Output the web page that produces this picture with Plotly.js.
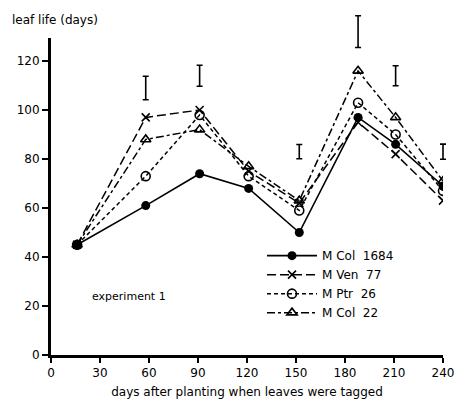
<!DOCTYPE html>
<html>
<head>
<meta charset="utf-8">
<script src="https://cdn.plot.ly/plotly-3.0.1.min.js"></script>
<style>html,body{margin:0;padding:0;background:#fff;}#chart{width:456px;height:408px;}</style>
</head>
<body>
<div id="chart"></div>
<script>
// days after planting when leaves were tagged
const days = [16, 58, 91, 121, 152, 188, 211, 240];
// leaf life (days) per clone
const mCol1684 = [45, 61, 74, 68, 50, 97, 86, 69];
const mVen77   = [45, 97, 100, 75, 62, 95, 82, 63];
const mPtr26   = [45, 73, 98, 73, 59, 103, 90, 67];
const mCol22   = [45, 88, 92, 77, 63, 116, 97, 71];
// LSD / error bars (centre and half-length)
const barDays = [58, 91, 152, 188, 211, 240];
const barMid  = [109, 114, 83, 132, 114, 83];
const barHalf = [4.8, 4.3, 2.9, 6.5, 4.1, 3.1];
const xTicks = [0, 30, 60, 90, 120, 150, 180, 210, 240];
const yTicks = [0, 20, 40, 60, 80, 100, 120];
const seriesNames = ['M Col  1684', 'M Ven  77', 'M Ptr  26', 'M Col  22'];

const FONT = 'DejaVu Sans, Arial, sans-serif';
const black = '#000';

const X_MAX = 240, Y_MAX = 129.4;
const X_DOM = 0.98, Y_DOM = 0.9188;   // main axes domain inside the paper

const traces = [
  {x: days, y: mCol1684, name: seriesNames[0], mode: 'lines+markers',
   line: {color: black, width: 1.6},
   marker: {symbol: 'circle', size: 9, color: black}},
  {x: days, y: mVen77, name: seriesNames[1], mode: 'lines+markers',
   line: {color: black, width: 1.5, dash: '9px,4px'},
   marker: {symbol: 'x-thin-open', size: 8, color: black, line: {width: 1.6, color: black}}},
  {x: days, y: mPtr26, name: seriesNames[2], mode: 'lines+markers',
   line: {color: black, width: 1.5, dash: '4px,3px'},
   marker: {symbol: 'circle-open', size: 9, color: black, line: {width: 1.6, color: black}}},
  {x: days, y: mCol22, name: seriesNames[3], mode: 'lines+markers',
   line: {color: black, width: 1.5, dash: '8px,3px,3px,3px'},
   marker: {symbol: 'triangle-up-open', size: 9, color: black, line: {width: 1.6, color: black}}},
  // error bars on an invisible overlay with the same scale but a larger domain (no clipping)
  {x: barDays, y: barMid, xaxis: 'x2', yaxis: 'y2', mode: 'markers', showlegend: false, hoverinfo: 'skip',
   marker: {size: 1, color: 'rgba(0,0,0,0)'},
   error_y: {type: 'data', array: barHalf, visible: true, color: black, thickness: 1.6, width: 3}}
];

const layout = {
  width: 456, height: 408,
  margin: {l: 51, r: 5, t: 10, b: 53},
  paper_bgcolor: '#fff', plot_bgcolor: 'rgba(0,0,0,0)',
  font: {family: FONT, size: 12, color: black},
  showlegend: true,
  legend: {x: 0.5275, y: 0.33, xanchor: 'left', yanchor: 'top',
           bgcolor: 'rgba(0,0,0,0)', borderwidth: 0,
           font: {family: FONT, size: 12, color: black}, itemwidth: 50},
  xaxis: {domain: [0, X_DOM], range: [0, X_MAX], tickvals: xTicks, ticktext: xTicks.map(String),
          showgrid: false, zeroline: false, showline: true, linecolor: black, linewidth: 3,
          ticks: 'outside', ticklen: 5, tickwidth: 1.5, tickcolor: black,
          tickfont: {family: FONT, size: 12, color: black},
          title: {text: 'days after planting when leaves were tagged', standoff: 9,
                  font: {family: FONT, size: 12, color: black}}},
  yaxis: {domain: [0, Y_DOM], range: [0, Y_MAX], tickvals: yTicks, ticktext: yTicks.map(String),
          showgrid: false, zeroline: false, showline: true, linecolor: black, linewidth: 3,
          ticks: 'outside', ticklen: 6, tickwidth: 1.5, tickcolor: black,
          tickfont: {family: FONT, size: 12, color: black}},
  xaxis2: {domain: [0, 1], range: [0, X_MAX / X_DOM], anchor: 'y2', visible: false,
           showgrid: false, zeroline: false},
  yaxis2: {domain: [0, 1], range: [0, Y_MAX / Y_DOM], anchor: 'x2', visible: false,
           showgrid: false, zeroline: false},
  annotations: [
    {text: 'leaf life (days)', xref: 'paper', yref: 'paper', x: -0.1025, y: 0.971,
     xanchor: 'left', yanchor: 'middle', showarrow: false,
     font: {family: FONT, size: 12, color: black}},
    {text: 'experiment 1', xref: 'x', yref: 'y', x: 24, y: 24,
     xanchor: 'left', yanchor: 'middle', showarrow: false,
     font: {family: FONT, size: 11, color: black}}
  ]
};

Plotly.newPlot('chart', traces, layout, {displayModeBar: false, staticPlot: true});
</script>
</body>
</html>
